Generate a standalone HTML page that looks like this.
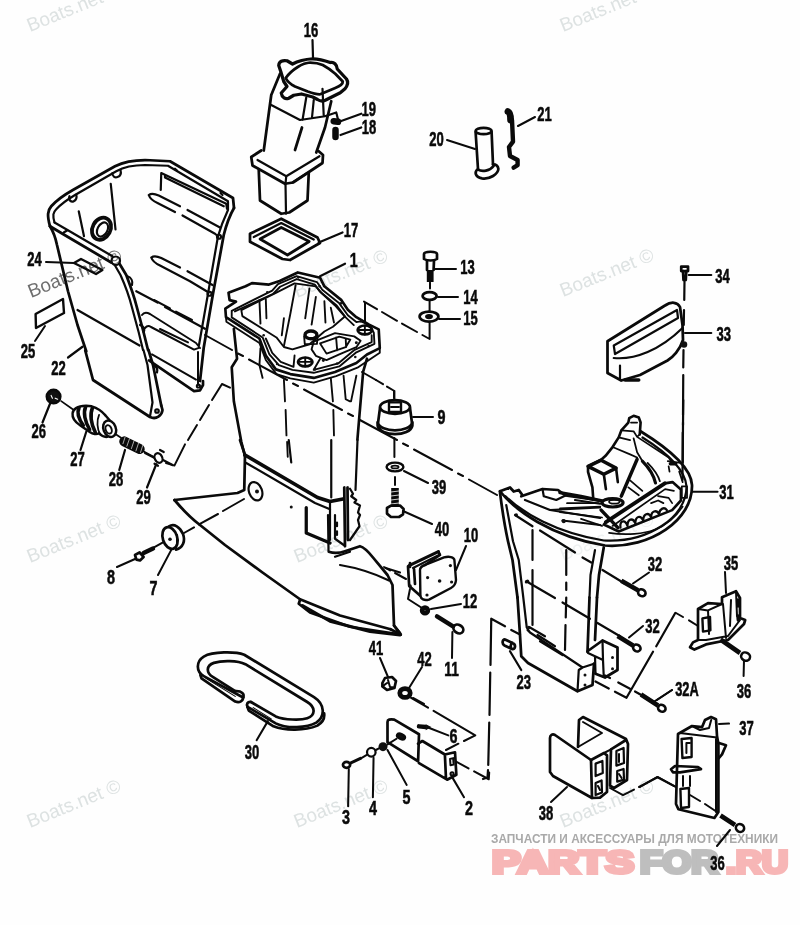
<!DOCTYPE html>
<html><head><meta charset="utf-8"><title>Parts diagram</title>
<style>
html,body{margin:0;padding:0;background:#fefefe;}
body{width:800px;height:925px;overflow:hidden;}
svg{display:block;filter:blur(.35px)}
.l{font-family:"Liberation Sans",sans-serif;font-weight:bold;font-size:19.5px;fill:#0a0a0a;stroke:#0a0a0a;stroke-width:.55px;text-anchor:middle}
.wm{font-family:"Liberation Sans",sans-serif;font-size:19px;fill:#dde2e2;stroke:none}
.p{fill:none;stroke:#0a0a0a;stroke-width:11;stroke-linecap:round;stroke-linejoin:round}
.t{stroke-width:8.8}
.k{fill:#111}
.w{fill:#fefefe}
</style></head><body>
<svg width="800" height="925" viewBox="0 0 800 925">
<rect width="800" height="925" fill="#fefefe"/>
<text class="wm" transform="translate(30,32) rotate(-22)">Boats.net ©</text>
<text class="wm" transform="translate(563,32) rotate(-22)">Boats.net ©</text>
<text class="wm" style="fill:#6e6e6e" transform="translate(31,298) rotate(-22)">Boats.net ©</text>
<text class="wm" transform="translate(297,298) rotate(-22)">Boats.net ©</text>
<text class="wm" transform="translate(563,297) rotate(-22)">Boats.net ©</text>
<text class="wm" transform="translate(30,563) rotate(-22)">Boats.net ©</text>
<text class="wm" transform="translate(297,563) rotate(-22)">Boats.net ©</text>
<text class="wm" style="fill:#eef1f1" transform="translate(563,561) rotate(-22)">Boats.net ©</text>
<text class="wm" transform="translate(30,828) rotate(-22)">Boats.net ©</text>
<text class="wm" transform="translate(297,828) rotate(-22)">Boats.net ©</text>
<text class="wm" transform="translate(563,828) rotate(-22)">Boats.net ©</text>
<!--WATERMARKS-->
<g id="logo" style="font-family:'Liberation Sans',sans-serif;font-weight:bold">
<text x="491" y="843" font-size="12" fill="#a9a9a9" textLength="287" lengthAdjust="spacingAndGlyphs">ЗАПЧАСТИ И АКСЕССУАРЫ ДЛЯ МОТОТЕХНИКИ</text>
<g font-size="31" stroke-width="4" stroke-linejoin="miter">
<text x="492" y="873" fill="#f7b6b6" stroke="#f7b6b6" textLength="142" lengthAdjust="spacingAndGlyphs">PARTS</text>
<text x="640" y="873" fill="#bebebe" stroke="#bebebe" textLength="78" lengthAdjust="spacingAndGlyphs">FOR</text>
<text x="726" y="873" fill="#f7b6b6" stroke="#f7b6b6" textLength="62" lengthAdjust="spacingAndGlyphs">.RU</text>
</g></g>
<g id="p22a" class="p" transform="translate(40,150) scale(.25)">
<!-- outer rim -->
<path d="M40,305 C28,262 30,242 45,225 C70,197 110,172 135,158 L300,65 C335,47 370,40 420,40 L520,45 L772,192 L776,232"/>
<path class="t" d="M58,290 C50,262 52,250 65,237 C85,215 115,195 140,180 L305,85 C335,68 375,60 420,60 L512,63 L752,205"/>
<!-- right edge -->
<path d="M776,232 C760,260 745,300 735,340 L692,575 L655,790 L640,924"/>
<path class="t" d="M752,207 L752,240 C738,270 722,310 712,345 L672,575 L636,780"/>
<!-- front-left rim -->
<path d="M40,305 L95,338 L285,450"/>
<path class="t" d="M58,290 L110,320 L290,425"/>
<circle class="t" cx="303" cy="443" r="17"/>
<!-- left outer edge -->
<path d="M40,305 C55,330 62,350 68,380 L112,565 L150,700 L185,805"/>
<!-- front edge going down -->
<path d="M318,455 L345,500 C360,540 375,580 385,620 L412,720 L432,800"/>
<path class="t" d="M300,462 L322,500 C340,540 358,590 368,630 L395,730 L412,800"/>
<!-- crease -->
<path class="t" d="M150,640 L398,782"/>
<!-- bosses on rim -->
<path class="t" d="M118,185 C112,200 125,210 135,205 C145,200 148,190 145,178"/>
<path class="t" d="M290,92 C288,105 300,112 310,108 C322,104 326,95 322,80"/>
<path class="t" d="M95,330 L108,322"/>
<path class="t" d="M540,75 L548,82 M722,172 L730,180"/>
<path class="t" d="M350,505 C365,510 372,525 368,540 M400,700 C415,705 420,715 415,730"/>
<!-- interior ticks -->
<path class="t" d="M155,245 L176,345 M283,135 L302,318"/>
<!-- grommet -->
<ellipse cx="246" cy="315" rx="36" ry="46" transform="rotate(28 246 315)" style="stroke-width:15"/>
<ellipse class="t" cx="250" cy="318" rx="20" ry="30" transform="rotate(28 250 318)"/>
<!-- recess -->
<path class="t" d="M483,160 L485,92 L745,215 L748,235 M500,100 L500,110 L735,225"/>
<!-- ribs -->
<path class="t" d="M435,180 C445,172 460,175 475,182 L560,225 M590,240 L720,310 M435,180 C440,195 455,205 470,212 L540,248 M570,262 L700,335 L712,345"/>
<circle class="t" cx="716" cy="347" r="8"/>
<path class="t" d="M445,430 C455,422 470,425 485,432 L560,470 M590,485 L690,540 M445,430 C450,445 465,455 480,462 L600,525 L675,570"/>
<circle class="t" cx="678" cy="575" r="8"/>
<path class="t" d="M385,565 L470,610 M500,628 L660,715"/>
</g>

<g id="p22b" class="p" transform="translate(0,340) scale(.25)">
<path d="M341,42 L372,160 L600,308 C625,320 648,302 650,280 L645,262"/>
<path d="M594,40 L612,100 L645,262"/>
<path class="t" d="M574,40 L590,100 L610,250 L600,305"/>
<circle class="t" cx="628" cy="284" r="7"/>
<path class="t" d="M612,100 C625,105 632,115 628,130"/>
<path class="t" d="M580,452 L615,470"/>
<!-- 29 clip -->
<ellipse class="t" cx="634" cy="472" rx="15" ry="20" transform="rotate(-25 634 472)"/>
<path class="t" d="M640,440 L655,448 M618,495 L632,503 M652,480 L690,500"/>

<!-- leaders -->
<path class="t" d="M200,255 L170,330 M345,367 L322,440 M500,440 L477,520 M625,497 L588,590 M330,27 L272,70"/>
</g>

<g id="p1a" class="p" transform="translate(220,265) scale(.21304)" style="stroke-width:12.5">
<!-- flange outer -->
<path d="M40,130 L45,165 L75,172 L25,205 L28,245 L185,345 L215,425 L262,490 L330,512 L440,530 L540,502 L640,460 L690,420 L750,390 L745,302 L700,280 L640,245 L600,210 L570,165 L490,100 L470,60 L365,35 L280,75 L230,92 L150,85 L120,100 Z"/>
<path class="t" d="M28,245 L30,266 L185,366 L215,446 L265,512 L330,532 L440,552 L545,522 L645,482 L750,412 L750,390"/>
<!-- bead -->
<path class="t" d="M55,215 L245,120 L272,90 L360,52 L455,80 L480,116 L560,180 L600,236 L640,268 C660,262 700,270 722,318 L725,370 L640,410 L560,476 L440,506 L340,492 L276,470 L232,420 L200,340 L55,246 Z"/>
<path class="t" d="M70,218 L250,135 L282,102 L360,66 L445,92 L470,126 L548,190 L590,246 L628,282 M215,345 L245,412 L285,455 L345,478 L350,425 M470,440 L440,492 L555,462 L632,398 L712,362 L712,330"/>
<!-- cavity -->
<path class="t" d="M100,212 L260,132 L350,86 L450,100 L475,130 L540,190 L586,242 L530,290 L490,312 L420,372 L340,396 L300,385 L265,340 L105,240 Z"/>
<path class="t" d="M185,165 L190,275 M215,160 L218,250 M355,95 L330,230 M330,230 L300,380 M300,250 L290,330 M420,110 L400,250 M450,150 L430,280 M490,170 L495,270 M520,200 L535,270"/>
<!-- small opening -->
<path class="t" d="M440,360 L540,320 L630,335 L660,356 L640,386 L560,420 L500,446 L450,426 L430,396 Z M470,368 L560,336 L612,350 L590,386 L500,416 Z M545,340 L550,400 M590,345 L592,385"/>
<!-- holes -->
<ellipse cx="680" cy="305" rx="34" ry="21"/>
<ellipse cx="400" cy="455" rx="34" ry="21"/>
<path class="t" d="M648,305 L712,305 M680,285 L680,326 M368,455 L432,455 M400,435 L400,476"/>
<ellipse cx="427" cy="328" rx="28" ry="18" style="stroke-width:16"/>
<path class="t" d="M395,335 L398,372 L455,370 L458,335"/>
<!-- bolt dots -->
<g class="k" stroke="none"><circle cx="222" cy="128" r="6"/><circle cx="368" cy="58" r="6"/><circle cx="468" cy="100" r="6"/><circle cx="568" cy="180" r="6"/><circle cx="665" cy="262" r="6"/><circle cx="698" cy="380" r="6"/><circle cx="635" cy="432" r="6"/><circle cx="550" cy="462" r="6"/><circle cx="445" cy="490" r="6"/><circle cx="268" cy="465" r="6"/><circle cx="205" cy="330" r="6"/><circle cx="640" cy="365" r="7"/><circle cx="485" cy="448" r="7"/></g>
<!-- body sides -->
<path d="M65,300 L80,440 L55,480 L65,640 L100,830 L118,900"/>
<path d="M690,440 L672,500 L655,700 L645,820"/>
<path class="t" d="M190,390 L185,470 L200,530 M300,540 L305,640 M308,680 L312,800 M315,830 L318,900 M520,530 L530,640 M532,680 L535,800 M580,520 L590,630 L610,640 M640,520 L615,640"/>
</g>
<g id="p1b" class="p" transform="translate(200,440) scale(.25)">
<path d="M160,0 L180,60 L177,200 L150,212 L-102,240"/>
<!-- fin bottom curve -->
<path d="M-102,240 C-60,290 -20,325 0,340 L100,420 L250,530 L400,637 L560,702 L762,757"/>
<!-- plate top -->
<path style="stroke-width:15" d="M180,60 L470,230 L520,246 L572,236"/>
<path class="t" d="M185,92 L460,252 L520,277"/>
<ellipse class="t" cx="222" cy="205" rx="26" ry="38" transform="rotate(-20 222 205)"/>
<circle class="k" cx="228" cy="206" r="8" stroke="none"/>
<circle class="k" cx="365" cy="268" r="6" stroke="none"/>
<path style="stroke-width:13" d="M425,270 L425,372 L520,412"/>
<path class="t" d="M520,250 L520,400 M512,300 L514,442 M540,300 L540,395 L575,420 M548,330 L548,345 M548,365 L548,380"/>
<path d="M577,190 L580,425 M590,190 L592,400"/>
<path class="t" d="M600,195 L612,215 L605,225 L625,240 L618,250 L640,262 L632,290 L640,300 L632,320 L638,345 L600,400"/>
<!-- torpedo -->
<path d="M515,447 C540,455 560,452 580,445 L640,425 C660,430 680,455 692,470 L750,540 L770,580 L776,742 L800,772"/>
<path class="t" d="M540,467 L600,447 M742,512 L800,530 M560,500 C620,510 690,530 756,562"/>
<path d="M400,640 L395,655 L440,690 L600,747 L803,778"/>
<path style="stroke-width:12" d="M410,662 L520,725 L680,766 L800,780"/>
<path d="M762,757 L803,778 L776,742"/>
<path class="t" d="M355,0 L365,90 M525,0 L525,230 M630,0 L622,200"/>
</g>

<g id="p16" class="p" transform="translate(220,20) scale(.25)">
<path style="stroke-width:13" d="M235,182 C236,165 250,160 268,163 L290,176 C310,165 340,157 371,155 C395,155 420,162 441,170 C455,166 468,178 469,196 L506,236 C514,248 512,260 500,275 L481,291 L421,321 C410,326 400,325 390,318 L371,308 L326,296 L295,301 L275,313 C262,318 248,312 245,292 L268,266 L255,246 L243,206 Z"/>
<path d="M263,232 C275,215 295,198 311,188 C330,176 345,171 361,170 C380,170 398,174 411,180 C430,190 448,204 461,215 L491,246 C492,258 478,265 461,272 L401,297 C385,298 368,292 351,286 L300,266 C285,258 268,245 263,232 Z"/>
<path d="M240,215 L205,300 L175,522 M445,325 L420,430 L385,530"/>
<path class="t" d="M345,310 L330,400 M205,340 L320,400 L420,385 L465,370 L472,398 M410,275 L415,385 M375,320 L368,390"/>
<path style="stroke-width:11" d="M328,430 L300,520"/>
<path d="M165,522 L125,548 L130,582 L260,655 L292,650 L410,572 L412,540 L395,525"/>
<path class="t" d="M150,560 L265,625 L398,545 M265,625 L262,655"/>
<path d="M155,600 L160,722 L245,775 L277,770 L350,722 L355,612"/>
<path class="t" d="M262,655 L264,775 M290,650 L345,615"/>
<!-- 18 19 -->
<path style="stroke-width:26" d="M455,405 L472,407 M462,440 L462,468"/>
<path class="t" d="M482,405 L565,375 M482,460 L565,430 M370,80 L372,150"/>
</g>
<g id="p17" class="p" transform="translate(220,180) scale(.25)">
<path d="M120,215 L245,155 L390,230 L400,252 L280,320 L250,316 L120,247 Z"/>
<path d="M160,236 L245,190 L357,246 L270,300 Z"/>
<path class="t" d="M135,228 L245,172 L375,238 M490,210 L395,250 M500,335 L400,385"/>
</g>

<g id="p20" class="p" transform="translate(410,90) scale(.2)" style="stroke-width:13.5">
<ellipse cx="368" cy="205" rx="40" ry="16" style="stroke-width:14"/>
<path d="M328,210 L340,395 M408,210 L415,372"/>
<path d="M340,395 C320,410 325,435 360,442 C400,448 440,420 442,395 C440,378 430,372 415,372 M340,398 C360,410 400,405 418,380"/>
<path style="stroke-width:34" d="M490,108 C500,112 503,125 503,150"/>
<path style="stroke-width:22" d="M510,150 L515,258 L495,285 L500,330 L538,350 L538,376 L518,388"/>
<path class="t" style="stroke-width:10" d="M185,250 L325,295 M625,135 L540,180"/>
</g>
<g id="p13" class="p" transform="translate(370,240) scale(.2)" style="stroke-width:13.5">
<path d="M270,70 C270,55 335,55 335,70 L335,95 C320,105 285,105 270,95 Z"/>
<path d="M285,102 L285,150 M320,102 L318,150"/>
<path style="stroke-width:34;stroke-linecap:butt" d="M301,150 L301,210"/>
<path class="t" style="stroke-width:10" d="M300,212 L300,242 M298,305 L298,355 M298,412 L298,495 L262,475 M235,460 L160,418 M135,404 L60,360 M35,346 L-30,308"/>
<ellipse cx="298" cy="280" rx="35" ry="19" style="stroke-width:14"/>
<ellipse cx="295" cy="383" rx="47" ry="25"/>
<ellipse class="k" cx="295" cy="383" rx="13" ry="6"/>
<path class="t" style="stroke-width:10" d="M325,145 L430,145 M340,285 L440,285 M345,395 L450,395"/>
</g>
<g id="p9" class="p" transform="translate(350,380) scale(.2)" style="stroke-width:13.5">
<ellipse cx="225" cy="135" rx="75" ry="34"/>
<path d="M150,140 L140,215 M300,140 L310,215"/>
<path d="M138,212 C150,265 300,265 312,212 M138,228 C150,285 300,285 312,228 M138,212 L138,228 M312,212 L312,228"/>
<path d="M195,112 L255,112 L255,160 L195,160 Z" style="stroke-width:12"/>
<path class="t" style="stroke-width:10" d="M205,135 L245,135 M222,55 L222,100 M222,55 L185,33 M165,21 L130,0 M222,290 L222,385 M225,485 L225,525 M315,185 L415,185 M270,455 L390,515 M265,655 L410,720"/>
<ellipse cx="225" cy="435" rx="42" ry="22" style="stroke-width:12"/>
<ellipse cx="225" cy="435" rx="18" ry="7" class="t"/>
<path style="stroke-width:38;stroke-linecap:butt" d="M225,540 L225,630"/>
<path style="stroke:#fefefe;stroke-width:4" d="M205,560 L245,555 M205,580 L245,575 M205,600 L245,595 M205,620 L245,615"/>
<path d="M185,640 L205,628 L250,628 L268,645 L265,672 L245,685 L205,685 L185,668 Z"/>
</g>

<g id="p33" class="p" transform="translate(560,250) scale(.25)">
<path d="M485,66 L512,66 L512,84 L485,84 Z M492,84 L494,120 M505,84 L503,120"/>
<path class="t" d="M498,125 L497,200 M496,240 L495,300 M494,400 L493,470 M493,500 L492,660 M492,690 L491,850 M515,100 L605,100 M500,332 L605,332"/>
<path d="M190,365 L420,222 C445,205 470,208 480,228 L490,300 L492,360 C480,400 450,430 430,442 L320,500 L245,522 L190,492 Z"/>
<path class="t" d="M215,382 L468,240 L472,272 L220,416 Z M215,432 C300,440 400,400 490,312 M240,462 L240,520"/>
<path style="stroke-width:14" d="M260,520 L315,520"/>
<circle class="k" cx="496" cy="378" r="13" stroke="none"/>
</g>
<g id="p31a" class="p" transform="translate(500,400) scale(.25)">
<!-- outer arc -->
<path d="M0,365 C60,440 200,545 420,582 C600,595 772,480 768,340 C765,280 700,210 562,125"/>
<path class="t" d="M22,385 C90,450 220,530 415,562 C590,572 748,470 746,345 C742,290 690,225 570,150"/>
<path d="M0,365 L40,350 L55,366 L75,360 L88,378"/>
<!-- left platform -->
<path d="M85,385 L170,356 L232,360 L262,382 L400,402"/>
<path class="t" d="M170,356 L175,385 L225,400 L262,382 M100,400 L200,440 L400,430 M200,440 L400,472 M250,482 L400,500 M300,400 L400,415"/>
<circle class="k" cx="65" cy="460" r="7" stroke="none"/><circle class="k" cx="255" cy="485" r="8" stroke="none"/><circle class="k" cx="110" cy="725" r="7" stroke="none"/>
<!-- body -->
<path d="M0,370 C10,450 20,510 32,565 L50,640 L70,790"/>
<path class="t" d="M25,420 L52,565 L75,640 L92,780"/>
<path d="M415,590 L396,700 L388,790"/>
<path class="t" d="M380,600 L362,700 L358,790"/>
<path class="t" d="M130,520 L130,640 M130,680 L130,900 M265,600 L265,700 M265,730 L265,760"/>
<!-- dash lines to bolts -->
<path class="t" d="M60,460 L130,505 M160,522 L300,610 M330,630 L365,650 M410,680 L500,735"/>
<path class="t" d="M770,367 L870,367"/>
<path class="t" d="M733,0 L732,100 M731,130 L730,320"/>
</g>
<g id="p31c" class="p" transform="translate(560,405) scale(.17523)" style="stroke-width:15">
<path d="M455,168 L460,100 L450,72 L420,62 L395,75 L390,100 L350,145 L335,185 L300,240 L260,290 L235,312 L160,350 L160,382 L185,470 L190,540"/>
<path style="stroke-width:10" d="M350,145 L420,150 L440,182 L455,168 M405,100 L440,100 M420,190 L440,270 L470,320 M300,240 L400,282 L440,300 M335,185 L400,200 M440,182 L620,300 L640,330 M700,580 C660,640 600,690 540,712 C480,735 380,745 280,730"/>
<path style="stroke-width:20" d="M160,350 L235,315 L320,360 L250,395 Z"/>
<path d="M250,395 L262,480 M320,360 L330,440"/>
<path style="stroke-width:20" d="M440,310 L350,520"/>
<path style="stroke-width:18" d="M470,320 C510,360 535,400 545,445"/>
<path style="stroke-width:10" d="M500,330 C535,365 560,400 570,435 M400,430 L470,490 M390,470 L450,515"/>
<ellipse cx="300" cy="558" rx="60" ry="24" style="stroke-width:18"/>
<ellipse cx="310" cy="552" rx="30" ry="11" style="stroke-width:10"/>
<path style="stroke-width:22" d="M262,668 L598,447"/>
<path d="M250,682 L262,668 M598,447 L642,440 L690,482 L690,545 L640,600 L335,722 L250,682"/>
<path style="stroke-width:10" d="M300,690 L600,480 L650,490 M560,520 L620,530 L640,560 M590,560 L560,545 L520,560"/>
<path style="stroke-width:13" d="M345,700 C340,660 370,650 385,690 C385,650 415,640 430,675 C430,635 460,625 475,660 C475,620 505,610 520,640 C520,605 550,595 565,622 C570,590 595,580 610,600"/>
<path style="stroke-width:20" d="M0,500 L120,522 L240,548 M235,600 L330,700"/>
<path style="stroke-width:10" d="M0,590 L230,580 M0,612 L240,642 M40,560 L220,560 M120,650 L240,690"/>
<path style="stroke-width:20" d="M630,335 L660,335"/>
<path style="stroke-width:10" d="M695,465 L725,465 L725,530 L695,530 Z M615,320 L690,330 M680,380 L700,440 M620,350 L625,380"/>
<circle class="k" cx="20" cy="660" r="10" stroke="none"/>
</g>
<g id="p31b" class="p" transform="translate(480,560) scale(.25)">
<path d="M150,150 L160,300 L165,385 L192,412 L390,525 L450,500 L456,415"/>
<path class="t" d="M172,140 L187,270 L200,290 L410,430 L456,415 M395,440 L390,525 M395,440 L410,430 M200,290 L190,280"/>
<path d="M430,365 L490,322 L550,350 L550,440 L500,470 L462,455"/>
<path class="t" d="M490,322 L492,400 L460,385 L432,372 M492,400 L495,468 M460,385 L462,455"/>
<path d="M468,150 L460,320 M438,150 L430,368"/>
<g class="k" stroke="none"><circle cx="420" cy="460" r="6"/><circle cx="420" cy="500" r="6"/><circle cx="530" cy="390" r="6"/><circle cx="530" cy="435" r="6"/><circle cx="185" cy="88" r="6"/><circle cx="195" cy="270" r="7"/></g>
<path class="t" d="M345,150 L343,230 M342,260 L340,360 M230,300 L300,345 M240,325 L330,380"/>
<!-- dashes -->
<path class="t" d="M185,85 L300,152 M330,170 L440,235 M470,252 L560,305 M200,270 L260,305 M500,462 L520,472 M553,490 L600,515 M620,526 L654,545"/>
<!-- big dash-dot frame -->
<path class="t" d="M45,235 L100,265 M125,280 L160,298 M45,235 L42,420 M41,450 L38,620 M37,650 L33,820 M32,840 L30,870 L12,876 M781,212 L705,345 M692,367 L586,551 L540,527 M515,514 L462,486"/>
<!-- 23 pin -->
<path d="M100,318 L130,332 C145,338 142,360 128,356 L98,342 C86,336 90,316 100,318 Z M128,356 C120,350 122,334 130,332"/>
<path class="t" d="M120,365 L165,440"/>
</g>

<g id="p35" class="p" transform="translate(640,540) scale(.2)" style="stroke-width:13.5">
<path d="M290,345 L340,316 L410,320 L410,286 L480,256 L500,290 L500,390 L526,400 L520,420 L440,500 L330,522 L272,548 L250,536 L265,512 L290,500 Z"/>
<path class="t" style="stroke-width:10" d="M290,345 L340,352 L410,320 M415,320 L430,490 M455,300 L450,430 M340,352 L345,470 M480,256 L485,380 M290,500 L330,500 L440,480 L500,400"/>
<path style="stroke-width:12" d="M312,392 L350,385 L352,452 L315,458 Z"/>
<path style="stroke-width:18" d="M490,300 L490,330 M490,380 L492,400"/>
<path class="t" style="stroke-width:10" d="M180,365 L215,385 M245,402 L290,430 M425,160 L430,265 M520,600 L518,680"/>
<!-- 32A bolt -->
<path class="t" style="stroke-width:10" d="M85,800 L160,750"/>
</g>
<g id="p38" class="p" transform="translate(530,700) scale(.2)" style="stroke-width:13.5">
<path d="M100,190 C100,175 112,168 125,175 L305,300 L310,490 L115,380 L100,360 Z"/>
<path d="M305,300 L370,265 L385,277 L385,460 L350,488 L310,490"/>
<path d="M240,235 L245,100 L265,85 L480,195 L490,220 L485,400 L420,440 L400,428 L405,247 L480,200"/>
<path class="t" style="stroke-width:10" d="M240,235 L360,165 L265,110 M370,265 L405,247 M385,277 L385,300"/>
<path style="stroke-width:11" d="M328,318 L362,305 L364,365 L328,380 Z M328,415 L358,402 L360,462 L328,475 Z M432,255 L468,240 L470,315 L432,328 Z M436,355 L468,345 L470,398 L436,408 Z"/>
<path class="t" style="stroke-width:10" d="M340,430 L350,450 M445,370 L458,390 M445,270 L445,310"/>
<path class="t" style="stroke-width:10" d="M185,435 L105,510 M400,440 L465,476 L520,448 M545,435 L640,385 L720,430"/>
</g>
<g id="p37" class="p" transform="translate(640,700) scale(.2)" style="stroke-width:13.5">
<path d="M190,170 L260,130 L310,136 L325,100 L355,85 L380,96 L385,180 L392,220 L392,560 L372,590 L192,546 L180,520 Z"/>
<path class="t" style="stroke-width:10" d="M260,130 L300,150 L345,140 L356,100 M200,165 L385,188 M380,190 L380,560"/>
<path style="stroke-width:12" d="M208,195 L258,190 L258,285 L212,290 Z"/>
<path class="t" style="stroke-width:10" d="M232,215 L232,265 M232,215 L250,215"/>
<path d="M155,346 L175,330 L290,335 L305,346 L200,362 L165,362 Z"/>
<path style="stroke-width:12" d="M202,445 L245,440 L245,535 L205,540 Z"/>
<path class="t" style="stroke-width:10" d="M215,380 L215,430 M250,380 L250,430"/>
<path d="M395,215 L430,226 L410,272 L395,290"/>
<path class="t" style="stroke-width:10" d="M0,435 L85,385 L180,435 M250,475 L300,505 M325,520 L385,560 M395,120 L445,118 M450,650 L385,730"/>
</g>

<g id="p10" class="p" transform="translate(360,520) scale(.2)" style="stroke-width:13.5">
<path d="M300,250 C300,235 310,230 325,225 L420,187 C445,180 470,185 472,200 L480,300 C478,325 465,335 455,340 L345,398 C320,405 305,395 302,380 Z" style="stroke-width:12"/>
<path style="stroke-width:16" d="M245,228 L392,158"/>
<path d="M250,215 L250,235 M392,158 L400,175 L325,225 M240,232 L246,330 L300,378 M270,245 L275,320"/>
<path class="t" style="stroke-width:10" d="M265,240 L400,172"/>
<g class="k" stroke="none"><circle cx="338" cy="288" r="8"/><circle cx="452" cy="228" r="8"/><circle cx="458" cy="310" r="8"/><circle cx="335" cy="375" r="8"/><circle cx="398" cy="305" r="9"/><circle cx="250" cy="330" r="9"/></g>
<path class="t" style="stroke-width:10" d="M120,235 L150,252 M175,265 L230,295 M250,345 L240,395 L310,440 M530,130 L480,250 M355,445 L505,420 M462,560 L460,690 M100,690 L140,785 M310,735 L245,840"/>
<circle cx="325" cy="452" r="14" style="stroke-width:24"/>
<path style="stroke-width:22" d="M385,482 L465,532"/>
<ellipse cx="492" cy="545" rx="26" ry="20" transform="rotate(30 492 545)"/>
<!-- 41 nut -->
<path d="M112,815 L125,790 L160,785 L180,805 L172,840 L135,850 L112,832 Z"/>
<path class="t" style="stroke-width:10" d="M140,800 L150,835 L172,838 M135,815 L112,832"/>
<ellipse cx="225" cy="865" rx="26" ry="22" style="stroke-width:24"/>
<path class="t" style="stroke-width:10" d="M265,890 L320,920"/>
</g>
<g id="p2" class="p" transform="translate(320,660) scale(.225)" style="stroke-width:12">
<path d="M300,275 C300,265 310,262 330,265 L440,330 L436,450 L300,365 Z"/>
<path d="M436,372 L455,360 L555,420 L600,410 L606,510 L565,532 L440,458 M555,420 L560,528"/>
<ellipse class="k" cx="360" cy="340" rx="18" ry="10" transform="rotate(25 360 340)"/>
<path class="t" style="stroke-width:9" d="M578,440 L592,436 L594,465 L580,468 Z"/><circle class="t" style="stroke-width:9" cx="587" cy="506" r="7"/>
<path style="stroke-width:20" d="M440,295 L470,298"/>
<path class="k" d="M470,285 L495,298 L470,312 Z" stroke="none"/>
<path class="t" style="stroke-width:9" d="M480,300 L570,335 M300,400 L385,555 M238,435 L235,610 M128,485 L125,650 M590,525 L640,610"/>
<circle class="k" cx="280" cy="385" r="20" stroke="none"/>
<circle cx="228" cy="410" r="19" style="stroke-width:10"/>
<path class="t" style="stroke-width:9" d="M300,375 L340,350 M248,400 L262,393"/>
<path style="stroke-width:13" d="M135,458 L180,437"/>
<ellipse cx="118" cy="466" rx="16" ry="13"/>
<path class="t" style="stroke-width:9" d="M182,437 L208,422"/>
<!-- dash-dot -->
<path class="t" style="stroke-width:9" d="M405,168 L480,212 M505,226 L690,335 L640,360 M615,372 L560,400 M605,452 L660,482 M685,495 L750,530 L752,500"/>
</g>
<g id="p30" class="p" transform="translate(170,630) scale(.225)" style="stroke-width:12">
<path d="M325,300 L150,205 C115,185 115,140 150,118 C190,95 290,95 330,110 L640,298 C690,330 690,385 650,412 C610,435 520,440 470,415 L345,342"/>
<path d="M290,272 L190,208 C160,190 160,158 195,146 C230,135 300,135 335,152 L610,320 C650,345 645,380 610,392 C580,402 510,400 470,384 L360,320"/>
<path d="M325,300 C332,285 320,270 290,272 M345,342 C338,328 345,318 360,320"/>
<path style="stroke-width:12" d="M135,200 L140,215 L290,318 C310,325 325,315 325,300 M345,345 L350,358 L460,428 C510,448 600,448 655,425 C680,410 688,390 685,370"/>
<path class="t" style="stroke-width:5" d="M160,215 L290,295 M370,345 L450,395"/>
<path class="t" style="stroke-width:9" d="M435,405 L385,490"/>
</g>
<g id="p7" class="p" transform="translate(90,480) scale(.2)" style="stroke-width:13.5">
<ellipse cx="400" cy="290" rx="36" ry="56" transform="rotate(-18 400 290)"/>
<path d="M395,232 C420,215 450,235 465,270 C478,305 465,340 430,348"/>
<circle class="k" cx="400" cy="296" r="9" stroke="none"/>
<path class="t" style="stroke-width:10" d="M435,275 L435,320 M470,265 L520,237 M545,222 L640,170 M665,155 L770,95 M320,337 L365,312 M135,435 L225,395 M405,352 L340,475"/>
<path style="stroke-width:22" d="M268,365 L315,343"/>
<path d="M225,375 L248,362 L268,385 L250,402 L232,398 Z"/>
</g>
<g id="p24" class="p" transform="translate(0,230) scale(.2)" style="stroke-width:12">
<path d="M370,165 L405,145 L512,200 L480,220 Z"/>
<path d="M178,420 L315,345 L320,415 L180,490 Z"/>
<path class="t" style="stroke-width:10" d="M230,160 L370,165 M225,480 L175,555"/>
</g>

<g id="dashes" class="p" style="stroke-width:2">
<path d="M205,335 L232,350 M238,353.500 L243,356 M249,359.500 L287,380 M293,383.500 L298,386 M304,389.500 L342,410 M348,413.500 L353,416 M359,419.500 L397,440 M403,443.500 L408,446 M414,449.500 L452,470 M458,473.500 L463,476 M469,479.500 L497,495"/>

<path d="M365,303 L365,322 M394,391 L394,398 M376,380 L362,372"/>
</g>
<g id="p22c" class="p" transform="translate(100,300) scale(.2)" style="stroke-width:13.5">
<path d="M515,405 L515,425 L500,452 L470,456 L245,302"/>
<path class="t" style="stroke-width:10" d="M490,260 L490,425 M260,272 L480,398 M210,75 C220,60 235,62 250,70 L480,215 L500,240 M225,140 C235,128 245,128 255,135 L470,248 L498,238 M270,0 L350,42 M380,58 L460,100 M300,145 L440,212"/>
<circle class="t" style="stroke-width:10" cx="492" cy="430" r="8"/>
<path class="t" style="stroke-width:10" d="M610,420 L650,438 M610,420 L560,500 M545,525 L500,600 M485,625 L440,700 M425,722 L372,828 L330,815"/>
</g>
<g id="bolts" class="p" style="stroke-width:2.6">
<path style="stroke-width:4.6;stroke-linecap:butt" d="M621.3,580.7 L638,590.3 M617.6,636 L633,645.5 M641,694.5 L658,705.5 M720.5,639.5 L740,653 M720.5,815.5 L735,825"/>
<ellipse class="w" cx="641.8" cy="592.8" rx="3.9" ry="3.3" transform="rotate(30 641.8 592.8)"/>
<ellipse class="w" cx="636.8" cy="648" rx="3.9" ry="3.3" transform="rotate(30 636.8 648)"/>
<ellipse class="w" cx="661.8" cy="708.3" rx="3.9" ry="3.3" transform="rotate(30 661.8 708.3)"/>
<ellipse class="w" cx="745.6" cy="656.6" rx="4.6" ry="4" transform="rotate(30 745.6 656.6)"/>
<ellipse class="w" cx="740" cy="828" rx="4.2" ry="3.8" transform="rotate(30 740 828)"/>
<path style="stroke-width:2" d="M633,583.5 L649,572.5 M629,637.5 L643,626 M655,701 L672,690"/>
</g>
<g id="p27" class="p" transform="translate(30,380) scale(.1625)" style="stroke-width:15">
<circle class="k" cx="145" cy="102" r="42"/>
<path style="stroke:#fefefe;stroke-width:7" d="M130,95 L138,112 M155,112 L170,118"/>
<path style="stroke-width:11" d="M192,130 L265,182 M530,335 L560,355 M700,440 L760,472"/>
<path d="M262,205 C265,175 300,160 345,158 L380,162 C420,175 445,195 462,215 M262,205 C258,235 280,260 310,280 L370,322 C385,332 410,337 425,328"/>
<path style="stroke-width:22" d="M302,172 C287,200 300,240 328,280 M342,166 C327,200 337,255 367,305 M384,172 C368,210 374,270 402,322"/>
<path d="M462,215 L490,248 M425,328 C440,345 455,352 475,350"/>
<path style="stroke-width:11" d="M425,215 C410,250 412,300 432,335"/>
<ellipse cx="490" cy="300" rx="38" ry="52" transform="rotate(-22 490 300)"/>
<ellipse style="stroke-width:12" cx="484" cy="304" rx="18" ry="27" transform="rotate(-22 484 304)"/>
<path style="stroke-width:62;stroke-linecap:round" d="M580,378 L675,425"/>
<path style="stroke:#fefefe;stroke-width:4" d="M585,352 L572,392 M612,362 L596,408 M640,375 L624,422 M668,388 L652,436 M694,402 L680,446"/>
</g>
<!--PARTS-->
<text class="l" x="311.0" y="37.3" textLength="14.5" lengthAdjust="spacingAndGlyphs">16</text>
<text class="l" x="368.8" y="116.3" textLength="14.5" lengthAdjust="spacingAndGlyphs">19</text>
<text class="l" x="369.0" y="134.3" textLength="14.5" lengthAdjust="spacingAndGlyphs">18</text>
<text class="l" x="544.4" y="120.8" textLength="14.5" lengthAdjust="spacingAndGlyphs">21</text>
<text class="l" x="436.6" y="145.8" textLength="14.5" lengthAdjust="spacingAndGlyphs">20</text>
<text class="l" x="351.0" y="236.8" textLength="14.5" lengthAdjust="spacingAndGlyphs">17</text>
<text class="l" x="353.8" y="266.8" textLength="8" lengthAdjust="spacingAndGlyphs">1</text>
<text class="l" x="34.4" y="265.8" textLength="14.5" lengthAdjust="spacingAndGlyphs">24</text>
<text class="l" x="28.0" y="357.8" textLength="14.5" lengthAdjust="spacingAndGlyphs">25</text>
<text class="l" x="58.6" y="374.8" textLength="14.5" lengthAdjust="spacingAndGlyphs">22</text>
<text class="l" x="467.4" y="273.8" textLength="14.5" lengthAdjust="spacingAndGlyphs">13</text>
<text class="l" x="470.6" y="303.8" textLength="14.5" lengthAdjust="spacingAndGlyphs">14</text>
<text class="l" x="470.6" y="325.2" textLength="14.5" lengthAdjust="spacingAndGlyphs">15</text>
<text class="l" x="722.5" y="282.8" textLength="14.5" lengthAdjust="spacingAndGlyphs">34</text>
<text class="l" x="723.8" y="340.6" textLength="14.5" lengthAdjust="spacingAndGlyphs">33</text>
<text class="l" x="441.4" y="423.8" textLength="8" lengthAdjust="spacingAndGlyphs">9</text>
<text class="l" x="439.0" y="493.8" textLength="14.5" lengthAdjust="spacingAndGlyphs">39</text>
<text class="l" x="442.0" y="535.8" textLength="14.5" lengthAdjust="spacingAndGlyphs">40</text>
<text class="l" x="726.5" y="498.5" textLength="14.5" lengthAdjust="spacingAndGlyphs">31</text>
<text class="l" x="38.7" y="437.8" textLength="14.5" lengthAdjust="spacingAndGlyphs">26</text>
<text class="l" x="77.5" y="465.8" textLength="14.5" lengthAdjust="spacingAndGlyphs">27</text>
<text class="l" x="116.0" y="485.8" textLength="14.5" lengthAdjust="spacingAndGlyphs">28</text>
<text class="l" x="143.6" y="503.8" textLength="14.5" lengthAdjust="spacingAndGlyphs">29</text>
<text class="l" x="111.0" y="583.8" textLength="8" lengthAdjust="spacingAndGlyphs">8</text>
<text class="l" x="153.6" y="594.8" textLength="8" lengthAdjust="spacingAndGlyphs">7</text>
<text class="l" x="471.0" y="541.8" textLength="14.5" lengthAdjust="spacingAndGlyphs">10</text>
<text class="l" x="470.0" y="607.8" textLength="14.5" lengthAdjust="spacingAndGlyphs">12</text>
<text class="l" x="451.6" y="675.8" textLength="14.5" lengthAdjust="spacingAndGlyphs">11</text>
<text class="l" x="376.0" y="654.8" textLength="14.5" lengthAdjust="spacingAndGlyphs">41</text>
<text class="l" x="424.4" y="665.8" textLength="14.5" lengthAdjust="spacingAndGlyphs">42</text>
<text class="l" x="655.0" y="570.8" textLength="14.5" lengthAdjust="spacingAndGlyphs">32</text>
<text class="l" x="652.5" y="632.8" textLength="14.5" lengthAdjust="spacingAndGlyphs">32</text>
<text class="l" x="687.0" y="695.8" textLength="23.5" lengthAdjust="spacingAndGlyphs">32A</text>
<text class="l" x="731.0" y="569.8" textLength="14.5" lengthAdjust="spacingAndGlyphs">35</text>
<text class="l" x="744.0" y="698.4" textLength="14.5" lengthAdjust="spacingAndGlyphs">36</text>
<text class="l" x="523.8" y="689.3" textLength="14.5" lengthAdjust="spacingAndGlyphs">23</text>
<text class="l" x="252.0" y="759.4" textLength="14.5" lengthAdjust="spacingAndGlyphs">30</text>
<text class="l" x="453.4" y="743.3" textLength="8" lengthAdjust="spacingAndGlyphs">6</text>
<text class="l" x="469.0" y="815.3" textLength="8" lengthAdjust="spacingAndGlyphs">2</text>
<text class="l" x="406.6" y="803.8" textLength="8" lengthAdjust="spacingAndGlyphs">5</text>
<text class="l" x="373.0" y="815.3" textLength="8" lengthAdjust="spacingAndGlyphs">4</text>
<text class="l" x="346.0" y="824.3" textLength="8" lengthAdjust="spacingAndGlyphs">3</text>
<text class="l" x="746.5" y="734.8" textLength="14.5" lengthAdjust="spacingAndGlyphs">37</text>
<text class="l" x="546.0" y="820.3" textLength="14.5" lengthAdjust="spacingAndGlyphs">38</text>
<text class="l" x="717.6" y="869.8" textLength="14.5" lengthAdjust="spacingAndGlyphs">36</text>
<!--LABELS-->

</svg>
</body></html>
